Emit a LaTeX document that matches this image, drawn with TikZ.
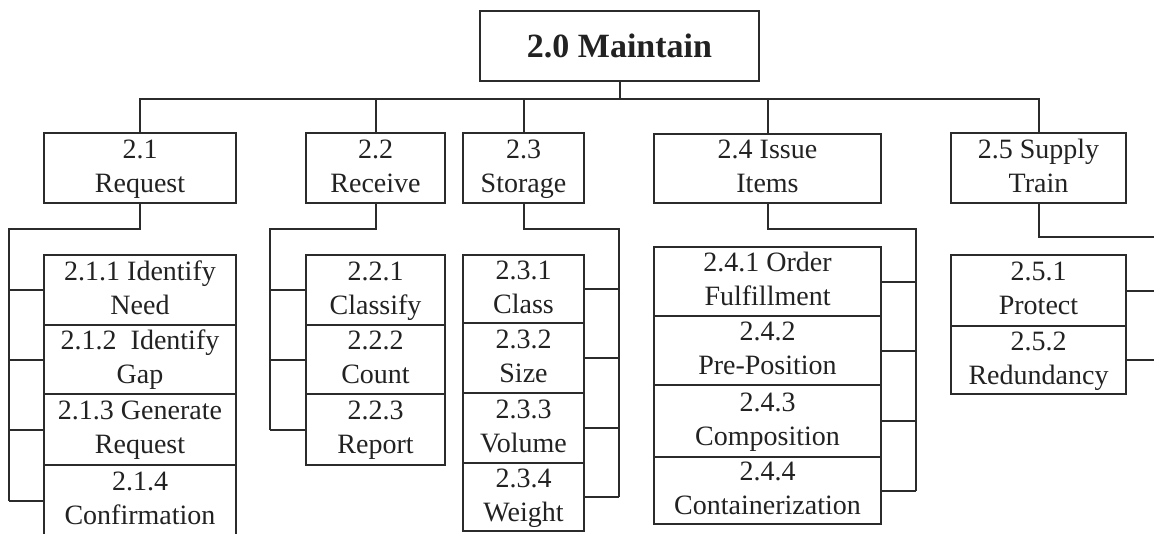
\documentclass[tikz,border=0pt]{standalone}
\usepackage{fontspec}
\setmainfont{Liberation Serif}
\definecolor{lineC}{HTML}{2B2B2B}
\definecolor{textC}{HTML}{222222}
\begin{document}
\begin{tikzpicture}[x=1pt,y=-1pt,
  box/.style={draw=lineC, line width=2pt, rectangle, inner sep=0pt, align=center,
    font=\fontsize{28}{34}\selectfont, text=textC, text height=57pt, text depth=9pt},
  topbox/.style={draw=lineC, line width=2pt, rectangle, inner sep=0pt, text=textC,
    font=\bfseries\fontsize{34}{40}\selectfont},
  conn/.style={draw=lineC, line width=2pt}]
\useasboundingbox (0,0) rectangle (1154,533);
\fill[white] (0,0) rectangle (1154,533);
\clip (0,0) rectangle (1154,533);
% root
\node[topbox, minimum width=279pt, minimum height=70pt] (main) at (619.5,46) {2.0 Maintain};
% level 2
\node[box, minimum width=192pt, minimum height=70pt] (r1) at (140,168) {2.1\\Request};
\node[box, minimum width=139pt, minimum height=70pt] (r2) at (375.5,168) {2.2\\Receive};
\node[box, minimum width=121pt, minimum height=70pt] (r3) at (523.5,168) {2.3\\Storage};
\node[box, minimum width=227pt, minimum height=69pt] (r4) at (767.5,168.5) {2.4 Issue\\Items};
\node[box, minimum width=175pt, minimum height=70pt] (r5) at (1038.5,168) {2.5 Supply\\Train};
% 2.1 children
\node[box, minimum width=192pt, minimum height=70pt] (a1) at (140,290) {2.1.1 Identify\\Need};
\node[box, minimum width=192pt, minimum height=69pt] (a2) at (140,359.5) {2.1.2~ Identify\\Gap};
\node[box, minimum width=192pt, minimum height=71pt] (a3) at (140,429.5) {2.1.3 Generate\\Request};
\node[box, minimum width=192pt, minimum height=71pt] (a4) at (140,500.5) {2.1.4\\Confirmation};
% 2.2 children
\node[box, minimum width=139pt, minimum height=70pt] (b1) at (375.5,290) {2.2.1\\Classify};
\node[box, minimum width=139pt, minimum height=69pt] (b2) at (375.5,359.5) {2.2.2\\Count};
\node[box, minimum width=139pt, minimum height=71pt] (b3) at (375.5,429.5) {2.2.3\\Report};
% 2.3 children
\node[box, minimum width=121pt, minimum height=68pt] (c1) at (523.5,289) {2.3.1\\Class};
\node[box, minimum width=121pt, minimum height=70pt] (c2) at (523.5,358) {2.3.2\\Size};
\node[box, minimum width=121pt, minimum height=70pt] (c3) at (523.5,428) {2.3.3\\Volume};
\node[box, minimum width=121pt, minimum height=68pt] (c4) at (523.5,497) {2.3.4\\Weight};
% 2.4 children
\node[box, minimum width=227pt, minimum height=69pt] (d1) at (767.5,281.5) {2.4.1 Order\\Fulfillment};
\node[box, minimum width=227pt, minimum height=69pt] (d2) at (767.5,350.5) {2.4.2\\Pre-Position};
\node[box, minimum width=227pt, minimum height=72pt] (d3) at (767.5,421) {2.4.3\\Composition};
\node[box, minimum width=227pt, minimum height=67pt] (d4) at (767.5,490.5) {2.4.4\\Containerization};
% 2.5 children
\node[box, minimum width=175pt, minimum height=71pt] (e1) at (1038.5,290.5) {2.5.1\\Protect};
\node[box, minimum width=175pt, minimum height=68pt] (e2) at (1038.5,360) {2.5.2\\Redundancy};
% top bus
\coordinate (bus) at (619.5,99);
\draw[conn] (main.south) -- (bus);
\draw[conn] (r1.north) |- (bus) -| (r5.north);
\draw[conn] (r2.north) -- (r2.north |- bus);
\draw[conn] (r3.north) -- (r3.north |- bus);
\draw[conn] (r4.north) -- (r4.north |- bus);
% 2.1 branch
\coordinate (k1) at (9,229);
\draw[conn] (r1.south) |- (k1) -- (k1 |- a4.west);
\foreach \n in {a1,a2,a3,a4} \draw[conn] (\n.west) -- (\n.west -| k1);
% 2.2 branch
\coordinate (k2) at (270,229);
\draw[conn] (r2.south) |- (k2) -- (k2 |- b3.west);
\foreach \n in {b1,b2,b3} \draw[conn] (\n.west) -- (\n.west -| k2);
% 2.3 branch
\coordinate (k3) at (619,229);
\draw[conn] (r3.south) |- (k3) -- (k3 |- c4.east);
\foreach \n in {c1,c2,c3,c4} \draw[conn] (\n.east) -- (\n.east -| k3);
% 2.4 branch
\coordinate (k4) at (916,229);
\draw[conn] (r4.south) |- (k4) -- (k4 |- d4.east);
\foreach \n in {d1,d2,d3,d4} \draw[conn] (\n.east) -- (\n.east -| k4);
% 2.5 branch
\coordinate (k5) at (1172,237);
\draw[conn] (r5.south) |- (k5) -- (k5 |- e2.east);
\foreach \n in {e1,e2} \draw[conn] (\n.east) -- (\n.east -| k5);
\end{tikzpicture}
\end{document}
